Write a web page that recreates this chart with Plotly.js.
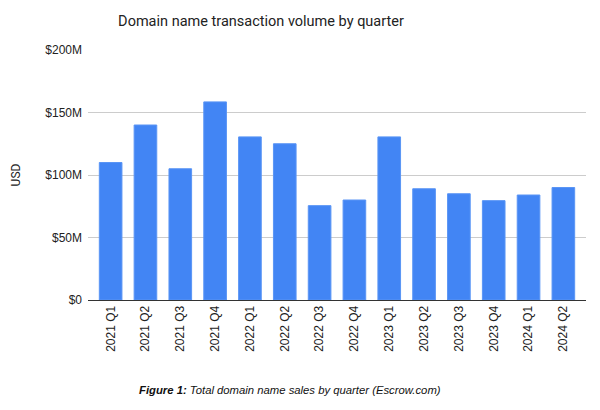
<!DOCTYPE html>
<html><head><meta charset="utf-8">
<script src="https://cdn.plot.ly/plotly-3.0.1.min.js"></script>
<style>html,body{margin:0;padding:0;background:#fff;}#chart{width:600px;height:410px;}</style>
</head><body><div id="chart"></div>
<script>
const quarters = ["2021 Q1","2021 Q2","2021 Q3","2021 Q4","2022 Q1","2022 Q2","2022 Q3","2022 Q4","2023 Q1","2023 Q2","2023 Q3","2023 Q4","2024 Q1","2024 Q2"];
const volumeMillions = [110, 140, 105, 158.5, 130.5, 125, 75.5, 80, 130.5, 89, 85, 79.5, 84, 90];
const yTickVals = [0, 50, 100, 150, 200];
const yTickText = ["$0", "$50M", "$100M", "$150M", "$200M"];
const chartTitle = "Domain name transaction volume by quarter";
const caption = "<b>Figure 1:</b> Total domain name sales by quarter (Escrow.com)";

const trace = {
  type: "bar",
  x: quarters,
  y: volumeMillions,
  marker: {color: "#4285F4", line: {color: "#5a95f5", width: 1}},
  hoverinfo: "x+y"
};

const layout = {
  width: 600, height: 410,
  margin: {l: 88, r: 14, t: 50, b: 110},
  paper_bgcolor: "#fff", plot_bgcolor: "#fff",
  bargap: 0.35,
  showlegend: false,
  title: {text: chartTitle, x: 0.435, xanchor: "center", y: 0.95, yanchor: "middle",
          font: {family: "Roboto, sans-serif", size: 14.5, color: "#222"}},
  xaxis: {
    type: "category",
    range: [-0.65, 13.65],
    tickangle: -90,
    tickfont: {family: "Liberation Sans, Arial, sans-serif", size: 12, color: "#222"},
    showgrid: false, ticks: "", ticklen: 0,
    showline: true, linecolor: "#333", linewidth: 1
  },
  yaxis: {
    range: [0, 200],
    tickvals: yTickVals, ticktext: yTickText,
    tickfont: {family: "Liberation Sans, Arial, sans-serif", size: 12, color: "#222"},
    showgrid: true, gridcolor: "#cccccc", gridwidth: 1,
    zeroline: false, ticks: "", ticklen: 0, ticklabelstandoff: 5,
    title: {text: "USD", font: {family: "Roboto, sans-serif", size: 12, color: "#222"}, standoff: 22}
  },
  annotations: [{
    text: "<i>" + caption + "</i>",
    xref: "paper", yref: "paper", x: 0.405, y: -0.36, xanchor: "center", yanchor: "middle",
    showarrow: false,
    font: {family: "Liberation Sans, Arial, sans-serif", size: 11.3, color: "#111"}
  }]
};

Plotly.newPlot("chart", [trace], layout, {displayModeBar: false, staticPlot: true});
</script>
</body></html>
